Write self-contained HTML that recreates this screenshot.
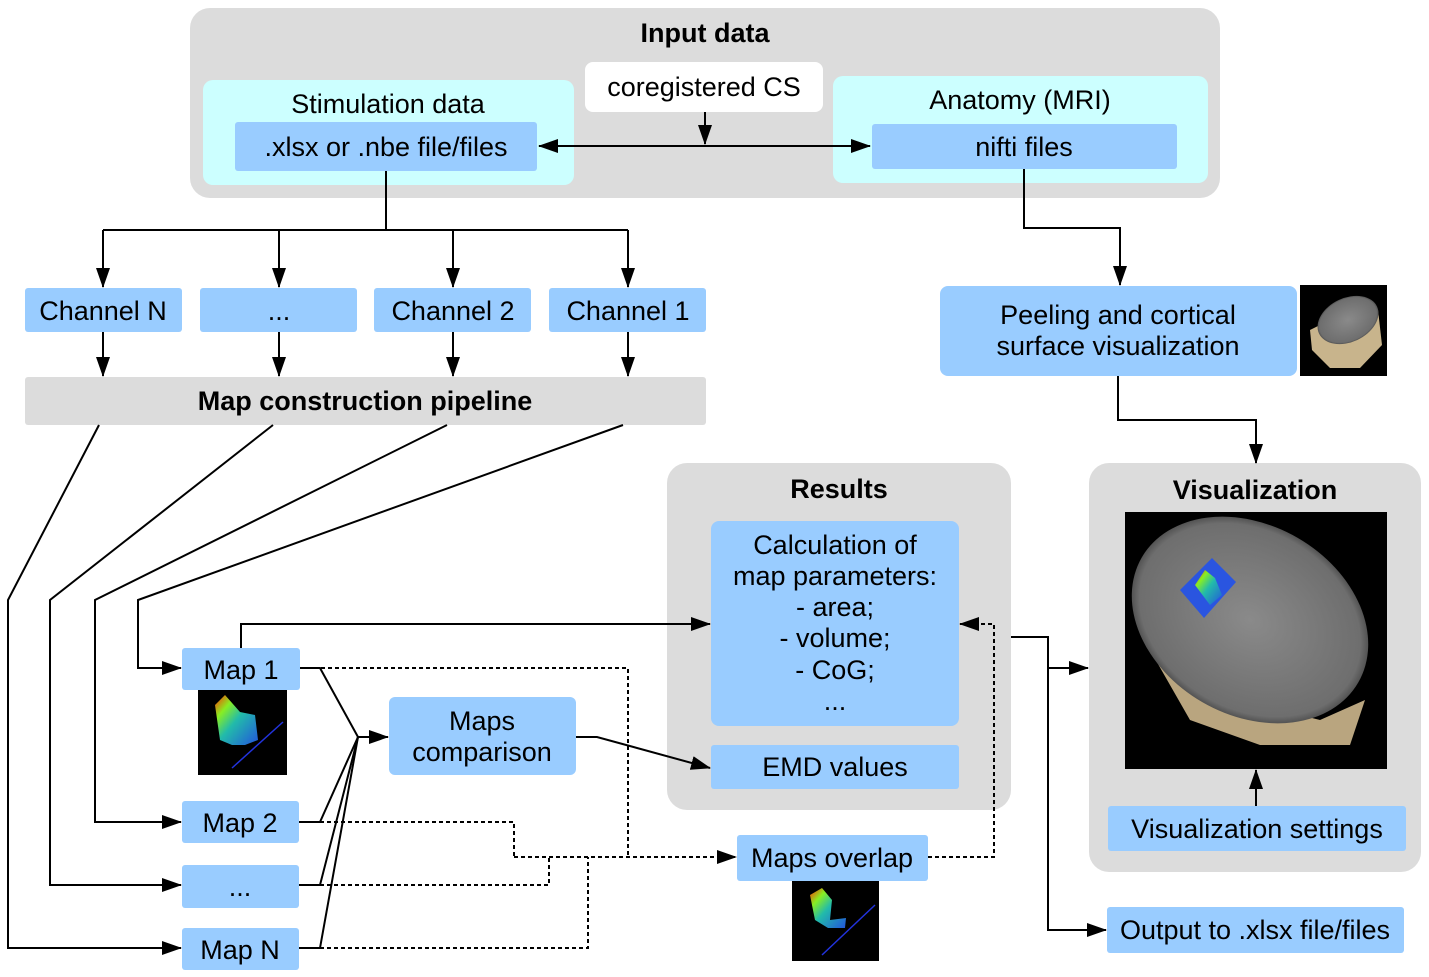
<!DOCTYPE html>
<html><head><meta charset="utf-8"><style>
html,body{margin:0;padding:0;background:#fff}
svg{display:block}
text{font-family:"Liberation Sans",sans-serif;font-size:27px;fill:#000;text-anchor:middle}
.b{font-weight:bold}
</style></head><body>
<svg width="1429" height="977" viewBox="0 0 1429 977" xmlns="http://www.w3.org/2000/svg">
<defs>
<marker id="a" markerWidth="20" markerHeight="14" refX="19" refY="7" orient="auto" markerUnits="userSpaceOnUse"><path d="M0,0 L20,7 L0,14 z" fill="#000"/></marker>
<marker id="s" markerWidth="20" markerHeight="14" refX="1" refY="7" orient="auto" markerUnits="userSpaceOnUse"><path d="M20,0 L0,7 L20,14 z" fill="#000"/></marker>
<radialGradient id="br" cx="50%" cy="50%" r="55%"><stop offset="0" stop-color="#8a8a8a"/><stop offset="0.85" stop-color="#6e6e6e"/><stop offset="1" stop-color="#2a2a2a"/></radialGradient>
<linearGradient id="hm" x1="0" y1="0" x2="1" y2="1"><stop offset="0" stop-color="#ff3300"/><stop offset="0.25" stop-color="#88ee22"/><stop offset="0.5" stop-color="#22bbaa"/><stop offset="1" stop-color="#2255dd"/></linearGradient>
</defs>
<!-- Input data -->
<rect x="190" y="8" width="1030" height="190" rx="20" fill="#dcdcdc"/>
<text x="705" y="42" class="b">Input data</text>
<rect x="203" y="80" width="371" height="105" rx="10" fill="#ccffff"/>
<text x="388" y="113">Stimulation data</text>
<rect x="235" y="122" width="302" height="49" rx="3" fill="#99ccff"/>
<text x="386" y="156">.xlsx or .nbe file/files</text>
<rect x="585" y="62" width="238" height="50" rx="8" fill="#fff"/>
<text x="704" y="96">coregistered CS</text>
<rect x="833" y="76" width="375" height="107" rx="10" fill="#ccffff"/>
<text x="1020" y="109">Anatomy (MRI)</text>
<rect x="872" y="124" width="305" height="45" rx="3" fill="#99ccff"/>
<text x="1024" y="156">nifti files</text>
<!-- channels -->
<rect x="25" y="288" width="157" height="44" rx="3" fill="#99ccff"/><text x="103" y="320">Channel N</text>
<rect x="200" y="288" width="157" height="44" rx="3" fill="#99ccff"/><text x="279" y="320">...</text>
<rect x="374" y="288" width="157" height="44" rx="3" fill="#99ccff"/><text x="453" y="320">Channel 2</text>
<rect x="549" y="288" width="157" height="44" rx="3" fill="#99ccff"/><text x="628" y="320">Channel 1</text>
<rect x="25" y="377" width="681" height="48" rx="3" fill="#dcdcdc"/>
<text x="365" y="410" class="b">Map construction pipeline</text>
<!-- maps -->
<rect x="182" y="648" width="118" height="42" rx="3" fill="#99ccff"/><text x="241" y="679">Map 1</text>
<rect x="182" y="801" width="117" height="42" rx="3" fill="#99ccff"/><text x="240" y="832">Map 2</text>
<rect x="182" y="865" width="117" height="43" rx="3" fill="#99ccff"/><text x="240" y="896">...</text>
<rect x="182" y="928" width="117" height="42" rx="3" fill="#99ccff"/><text x="240" y="959">Map N</text>
<rect x="198" y="690" width="89" height="85" fill="#000"/>
<path d="M215,705 L225,695 L240,712 L255,715 L258,740 L245,745 L232,745 L220,740 Z" fill="url(#hm)"/>
<line x1="283" y1="722" x2="232" y2="768" stroke="#2233dd" stroke-width="1.5"/>
<rect x="389" y="697" width="187" height="78" rx="6" fill="#99ccff"/>
<text x="482" y="730">Maps</text><text x="482" y="761">comparison</text>
<!-- results -->
<rect x="667" y="463" width="344" height="347" rx="20" fill="#dcdcdc"/>
<text x="839" y="498" class="b">Results</text>
<rect x="711" y="521" width="248" height="205" rx="8" fill="#99ccff"/>
<text x="835" y="554">Calculation of</text>
<text x="835" y="585">map parameters:</text>
<text x="835" y="616">- area;</text>
<text x="835" y="647">- volume;</text>
<text x="835" y="679">- CoG;</text>
<text x="835" y="710">...</text>
<rect x="711" y="745" width="248" height="44" rx="3" fill="#99ccff"/><text x="835" y="776">EMD values</text>
<rect x="737" y="835" width="191" height="46" rx="3" fill="#99ccff"/><text x="832" y="867">Maps overlap</text>
<rect x="792" y="881" width="87" height="80" fill="#000"/>
<path d="M810,895 L822,888 L832,900 L830,920 L846,918 L845,928 L828,928 L815,920 Z" fill="url(#hm)"/>
<line x1="875" y1="905" x2="822" y2="955" stroke="#2233dd" stroke-width="1.5"/>
<!-- peeling -->
<rect x="940" y="286" width="357" height="90" rx="8" fill="#99ccff"/>
<text x="1118" y="324">Peeling and cortical</text>
<text x="1118" y="355">surface visualization</text>
<rect x="1300" y="285" width="87" height="91" fill="#000"/>
<path d="M1310,330 L1330,320 L1378,310 L1382,345 L1360,368 L1330,368 L1312,350 Z" fill="#c8b48c"/>
<ellipse cx="1348" cy="320" rx="32" ry="22" transform="rotate(-25 1348 320)" fill="url(#br)"/>
<!-- visualization -->
<rect x="1089" y="463" width="332" height="409" rx="20" fill="#dcdcdc"/>
<text x="1255" y="499" class="b">Visualization</text>
<rect x="1125" y="512" width="262" height="257" fill="#000"/>
<path d="M1150,650 L1190,720 L1260,745 L1350,745 L1365,700 L1320,720 L1200,690 Z" fill="#b9a57f"/>
<ellipse cx="1250" cy="620" rx="125" ry="95" transform="rotate(30 1250 620)" fill="url(#br)"/>
<polygon points="1180,590 1212,558 1236,582 1204,618" fill="#2a55e0"/>
<path d="M1195,585 L1205,570 L1215,578 L1222,595 L1210,605 Z" fill="url(#hm)"/>
<rect x="1108" y="806" width="298" height="45" rx="3" fill="#99ccff"/><text x="1257" y="838">Visualization settings</text>
<rect x="1107" y="907" width="297" height="46" rx="3" fill="#99ccff"/><text x="1255" y="939">Output to .xlsx file/files</text>
<!-- connectors -->
<g stroke="#000" stroke-width="2" fill="none">
<line x1="539" y1="146" x2="870" y2="146" marker-start="url(#s)" marker-end="url(#a)"/>
<line x1="705" y1="112" x2="705" y2="144" marker-end="url(#a)"/>
<polyline points="386,171 386,230"/>
<line x1="103" y1="230" x2="628" y2="230"/>
<line x1="103" y1="230" x2="103" y2="287" marker-end="url(#a)"/>
<line x1="279" y1="230" x2="279" y2="287" marker-end="url(#a)"/>
<line x1="453" y1="230" x2="453" y2="287" marker-end="url(#a)"/>
<line x1="628" y1="230" x2="628" y2="287" marker-end="url(#a)"/>
<line x1="103" y1="332" x2="103" y2="376" marker-end="url(#a)"/>
<line x1="279" y1="332" x2="279" y2="376" marker-end="url(#a)"/>
<line x1="453" y1="332" x2="453" y2="376" marker-end="url(#a)"/>
<line x1="628" y1="332" x2="628" y2="376" marker-end="url(#a)"/>
<polyline points="1024,169 1024,228 1120,228 1120,285" marker-end="url(#a)"/>
<polyline points="1118,376 1118,420 1256,420 1256,463" marker-end="url(#a)"/>
<polyline points="99,425 8,600 8,948 181,948" marker-end="url(#a)"/>
<polyline points="273,425 50,600 50,885 181,885" marker-end="url(#a)"/>
<polyline points="447,425 95,600 95,822 181,822" marker-end="url(#a)"/>
<polyline points="623,425 138,600 138,668 181,668" marker-end="url(#a)"/>
<polyline points="300,668 320,668 358,737"/>
<polyline points="299,822 320,822 358,737"/>
<polyline points="299,885 320,885 358,737"/>
<polyline points="299,948 320,948 358,737"/>
<line x1="358" y1="737" x2="388" y2="737" marker-end="url(#a)"/>
<polyline points="576,737 597,737 710,768" marker-end="url(#a)"/>
<polyline points="241,648 241,624 710,624" marker-end="url(#a)"/>
<polyline points="1011,637 1048,637 1048,668 1088,668" marker-end="url(#a)"/>
<polyline points="1048,668 1048,930 1106,930" marker-end="url(#a)"/>
<line x1="1256" y1="806" x2="1256" y2="770" marker-end="url(#a)"/>
</g>
<g stroke="#000" stroke-width="2" fill="none" stroke-dasharray="4,3">
<polyline points="300,668 628,668 628,857"/>
<polyline points="299,822 514,822 514,857"/>
<polyline points="299,885 549,885 549,857"/>
<polyline points="299,948 588,948 588,857"/>
<line x1="514" y1="857" x2="736" y2="857" marker-end="url(#a)"/>
<polyline points="928,857 994,857 994,624 960,624" marker-end="url(#a)"/>
</g>
</svg>
</body></html>
